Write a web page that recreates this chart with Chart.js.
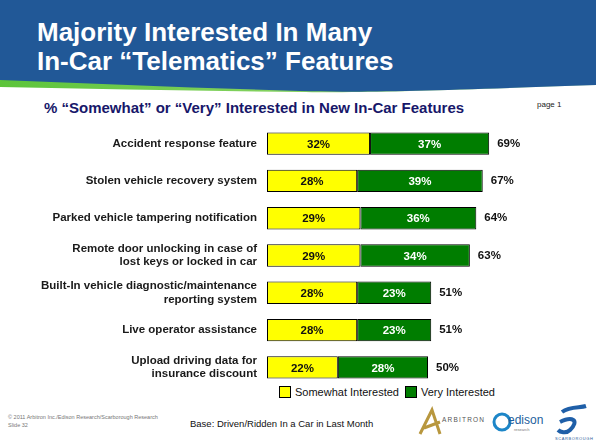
<!DOCTYPE html>
<html lang="en">
<head>
<meta charset="UTF-8" />
<title>Majority Interested In Many In-Car Telematics Features</title>
<script src="https://cdn.jsdelivr.net/npm/chart.js"></script>
<style>
    html, body { margin: 0; padding: 0; background: #fff; }
    body { width: 596px; height: 444px; position: relative; overflow: hidden; font-family: 'Liberation Sans', Arial, sans-serif; }
    #header { position: absolute; left: 0; top: 0; }
    .title { position: absolute; left: 37px; color: #fff; font-weight: bold; font-size: 26px; line-height: 29px; }
    .subtitle { position: absolute; left: 44px; top: 99px; color: #17176a; font-weight: bold; font-size: 15px; }
    .page { position: absolute; left: 537px; top: 100px; font-size: 8px; color: #222; }
    #chartBox { position: absolute; left: 0; top: 125px; width: 596px; height: 261px; }
    #legend { position: absolute; left: 279px; top: 386px; font-size: 11px; color: #111; display: flex; align-items: center; }
    #legend span.box { display: inline-block; width: 10px; height: 10px; border: 1px solid #000; margin-right: 4px; }
    #legend span.txt { margin-right: 6px; }
    .copy { position: absolute; left: 8px; top: 413px; font-size: 5.5px; color: #777; line-height: 8px; }
    .base { position: absolute; left: 190px; top: 418px; font-size: 9.5px; color: #111; }
    #logos { position: absolute; left: 410px; top: 400px; }
</style>
</head>
<body>
<svg id="header" width="596" height="100">
    <defs>
        <linearGradient id="grn" x1="0" x2="1" y1="0" y2="0">
            <stop offset="0" stop-color="#5cc43a" />
            <stop offset="0.6" stop-color="#8fd66a" />
            <stop offset="1" stop-color="#c8e8b8" />
        </linearGradient>
    </defs>
    <path d="M0,0 H596 V85 C450,90 360,93 300,92 C200,91 100,89 0,87 Z" fill="url(#grn)" />
    <path d="M0,0 H596 V85 C450,90 360,93 300,91 C200,88 100,84 0,80 Z" fill="#215897" />
</svg>
<div class="title" style="top:18px">Majority Interested In Many</div>
<div class="title" style="top:47px">In-Car &ldquo;Telematics&rdquo; Features</div>
<div class="subtitle">% &ldquo;Somewhat&rdquo; or &ldquo;Very&rdquo; Interested in New In-Car Features</div>
<div class="page">page 1</div>

<div id="chartBox"><canvas id="featuresChart"></canvas></div>
<div id="legend"></div>

<div class="copy">&copy; 2011 Arbitron Inc./Edison Research/Scarborough Research<br>Slide 32</div>
<div class="base">Base: Driven/Ridden In a Car in Last Month</div>
<svg id="logos" width="186" height="44">
    <path d="M10,34 L22,10 L30,34 M14,28 L30,22" stroke="#b8973e" stroke-width="3" fill="none" />
    <text x="32" y="22" font-size="6.5" letter-spacing="1.2" fill="#555">ARBITRON</text>
    <circle cx="92" cy="22" r="8" stroke="#1d86c8" stroke-width="3" fill="none" />
    <text x="98" y="24" font-size="12" fill="#1d5f9e">edison</text>
    <text x="104" y="31" font-size="4" fill="#777">research</text>
    <path d="M152,12 C160,6 170,8 176,6 M150,22 C162,16 170,20 160,30 C156,34 150,32 148,30" stroke="#1f5fa8" stroke-width="4" fill="none" />
    <text x="145" y="40" font-size="4" letter-spacing="0.6" fill="#2b5a9a">SCARBOROUGH</text>
</svg>

<script>
    const categories = [
        'Accident response feature',
        'Stolen vehicle recovery system',
        'Parked vehicle tampering notification',
        ['Remote door unlocking in case of', 'lost keys or locked in car'],
        ['Built-In vehicle diagnostic/maintenance', 'reporting system'],
        'Live operator assistance',
        ['Upload driving data for', 'insurance discount']
    ];
    const somewhat = [32, 28, 29, 29, 28, 28, 22];
    const very = [37, 39, 36, 34, 23, 23, 28];
    const totals = [69, 67, 64, 63, 51, 51, 50];
    const seriesNames = ['Somewhat Interested', 'Very Interested'];
    const seriesColors = ['#ffff00', '#007d00'];
    const labelColors = ['#111', '#fff'];

    // value labels inside the bars, totals after the bar end
    const barLabels = {
        id: 'barLabels',
        afterDatasetsDraw(chart) {
            const ctx = chart.ctx;
            ctx.save();
            ctx.font = 'bold 11.5px "Liberation Sans", Arial, sans-serif';
            ctx.textBaseline = 'middle';
            chart.data.datasets.forEach((ds, i) => {
                chart.getDatasetMeta(i).data.forEach((bar, j) => {
                    ctx.fillStyle = labelColors[i];
                    ctx.textAlign = 'center';
                    ctx.fillText(ds.data[j] + '%', (bar.x + bar.base) / 2, bar.y + 1);
                    if (i === chart.data.datasets.length - 1) {
                        ctx.fillStyle = '#111';
                        ctx.textAlign = 'left';
                        ctx.fillText(totals[j] + '%', bar.x + 8, bar.y);
                    }
                });
            });
            ctx.restore();
        }
    };

    new Chart(document.getElementById('featuresChart'), {
        type: 'bar',
        data: {
            labels: categories,
            datasets: [somewhat, very].map((d, i) => ({
                label: seriesNames[i],
                data: d,
                backgroundColor: seriesColors[i],
                borderColor: '#000',
                borderWidth: 1,
                borderSkipped: false,
                barPercentage: 0.6,
                categoryPercentage: 1
            }))
        },
        options: {
            indexAxis: 'y',
            responsive: true,
            maintainAspectRatio: false,
            animation: false,
            layout: { padding: { left: 0, right: 7, top: 0, bottom: 0 } },
            plugins: {
                legend: { display: false },
                tooltip: { enabled: false }
            },
            scales: {
                x: { stacked: true, min: 0, max: 100, display: false },
                y: {
                    stacked: true,
                    grid: { display: false, drawTicks: false },
                    border: { display: false },
                    afterFit(scale) {
                        scale.width = 267;
                        scale.paddingTop = 0;
                        scale.paddingBottom = 0;
                    },
                    ticks: {
                        padding: 10,
                        color: '#1a1a1a',
                        font: { family: '"Liberation Sans", Arial, sans-serif', size: 11.5, weight: 'bold', lineHeight: 1.15 }
                    }
                }
            }
        },
        plugins: [barLabels]
    });

    // legend built from the same series arrays
    const legend = document.getElementById('legend');
    seriesNames.forEach((name, i) => {
        legend.innerHTML += '<span class="box" style="background:' + seriesColors[i] + '"></span><span class="txt">' + name + '</span>';
    });
</script>
</body>
</html>
